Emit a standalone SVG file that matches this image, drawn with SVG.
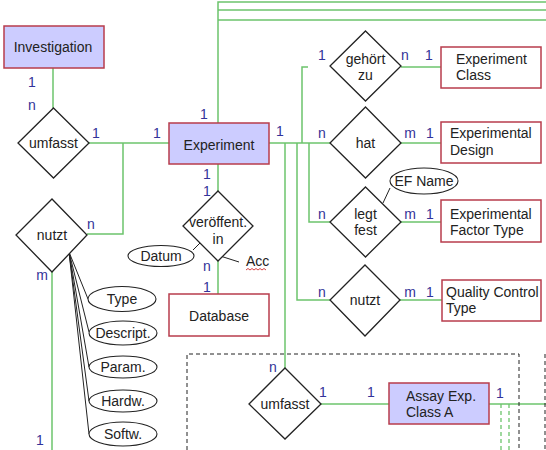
<svg xmlns="http://www.w3.org/2000/svg" width="546" height="450" viewBox="0 0 546 450">
<style>
.ent{fill:#ccccff;stroke:#b83c4c;stroke-width:1.5}
.ent2{fill:#ffffff;stroke:#b83c4c;stroke-width:1.5}
.rel{fill:#ffffff;stroke:#222;stroke-width:1.3}
.attr{fill:#ffffff;stroke:#222;stroke-width:1.1}
.t{font-family:"Liberation Sans",Arial,sans-serif;font-size:14px;fill:#222}
.c{text-anchor:middle}
.lb{font-family:"Liberation Sans",Arial,sans-serif;font-size:14px;fill:#333399;text-anchor:middle}
.g{fill:none;stroke:#6cc46c;stroke-width:1.5}
.gd{fill:none;stroke:#6cc46c;stroke-width:1.3;stroke-dasharray:4 3}
.k{fill:none;stroke:#222;stroke-width:1}
.dash{fill:none;stroke:#222;stroke-width:1;stroke-dasharray:4 3}
</style>
<rect width="546" height="450" fill="#ffffff"/>
<g id="connectors">
<path class="g" d="M218 123V2H546M218 10H546M218 20H546"/>
<path class="g" d="M53 68V108"/>
<path class="g" d="M89 143H169"/>
<path class="g" d="M123 143V234H87"/>
<path class="g" d="M52 272V450"/>
<path class="g" d="M218 164V191M218 261V294"/>
<path class="g" d="M269 143H330"/>
<path class="g" d="M302 143V67H308"/>
<path class="g" d="M401 67H441"/>
<path class="g" d="M401 143H441"/>
<path class="g" d="M309 143V222H330M401 222H441"/>
<path class="g" d="M297 143V300H330M400 300H442"/>
<path class="g" d="M285 143V368"/>
<path class="g" d="M321 404H389"/>
<path class="g" d="M489 404H546"/>
<path class="gd" d="M501 404V450M509 404V450"/>
<path class="k" d="M69 252L88 299M69 252L89 332M69 252L89 367M69 252L89 401M69 252L89 434"/>
<path class="k" d="M193 250L200 243"/>
<path class="k" d="M214 254L239 262"/>
<path class="k" d="M390 188L383 203"/>
<path class="dash" d="M187 450V354H519V450M545 354V450"/>
</g>
<g id="investigation"><rect class="ent" x="4" y="26" width="100" height="42"/><text class="t c" x="53" y="52">Investigation</text></g>
<g id="umfasst1"><polygon class="rel" points="53.5,108 89,143 53.5,178 18,143"/><text class="t c" x="53.5" y="148">umfasst</text></g>
<g id="experiment"><rect class="ent" x="169" y="123" width="100" height="41"/><text class="t c" x="219" y="150">Experiment</text></g>
<g id="nutzt1"><polygon class="rel" points="52,199 87,235 52,272 16,235"/><text class="t c" x="52" y="240">nutzt</text></g>
<g id="type"><ellipse class="attr" cx="122" cy="299" rx="34" ry="12.5"/><text class="t c" x="122" y="304">Type</text></g>
<g id="descript"><ellipse class="attr" cx="123" cy="333" rx="34" ry="12"/><text class="t c" x="123" y="338">Descript.</text></g>
<g id="param"><ellipse class="attr" cx="123" cy="367" rx="34" ry="11"/><text class="t c" x="123" y="372">Param.</text></g>
<g id="hardw"><ellipse class="attr" cx="123" cy="401" rx="34" ry="11"/><text class="t c" x="123" y="406">Hardw.</text></g>
<g id="softw"><ellipse class="attr" cx="123" cy="434" rx="34" ry="12"/><text class="t c" x="123" y="439">Softw.</text></g>
<g id="veroeffent"><polygon class="rel" points="218,191 253,226 218,261 183,226"/><text class="t c" x="218" y="227">veröffent.</text><text class="t c" x="218" y="244">in</text></g>
<g id="datum"><ellipse class="attr" cx="161" cy="256" rx="33" ry="10.5"/><text class="t c" x="161" y="261">Datum</text></g>
<g id="acc"><text class="t" x="246" y="266">Acc</text><path d="M246 270l2 -1.5l2 1.5l2 -1.5l2 1.5l2 -1.5l2 1.5l2 -1.5l2 1.5l2 -1.5l2 1.5" fill="none" stroke="#d03030" stroke-width="0.9"/></g>
<g id="database"><rect class="ent2" x="169" y="294" width="100" height="42"/><text class="t c" x="219" y="321">Database</text></g>
<g id="gehoert"><polygon class="rel" points="365.5,31 401,66 365.5,101 330,66"/><text class="t c" x="365.5" y="64">gehört</text><text class="t c" x="365.5" y="80">zu</text></g>
<g id="expclass"><rect class="ent2" x="441" y="47" width="100" height="41"/><text class="t" x="456" y="64">Experiment</text><text class="t" x="456" y="80">Class</text></g>
<g id="hat"><polygon class="rel" points="365.5,107 401,143 365.5,178 330,143"/><text class="t c" x="365.5" y="148">hat</text></g>
<g id="expdesign"><rect class="ent2" x="441" y="122" width="100" height="41"/><text class="t" x="450" y="138">Experimental</text><text class="t" x="450" y="155">Design</text></g>
<g id="legtfest"><polygon class="rel" points="365.5,187 401,222 365.5,257 330,222"/><text class="t c" x="365.5" y="219">legt</text><text class="t c" x="365.5" y="235">fest</text></g>
<g id="efname"><ellipse class="attr" cx="424" cy="181" rx="34" ry="13"/><text class="t c" x="424" y="186">EF Name</text></g>
<g id="factortype"><rect class="ent2" x="441" y="200" width="100" height="42"/><text class="t" x="450" y="219">Experimental</text><text class="t" x="450" y="235">Factor Type</text></g>
<g id="nutzt2"><polygon class="rel" points="365,265 400,300 365,336 330,300"/><text class="t c" x="365" y="305">nutzt</text></g>
<g id="qctype"><rect class="ent2" x="442" y="280" width="99" height="41"/><text class="t" x="446" y="297">Quality Control</text><text class="t" x="446" y="313">Type</text></g>
<g id="umfasst2"><polygon class="rel" points="285,368 321,404 285,439 249,404"/><text class="t c" x="285" y="409">umfasst</text></g>
<g id="assay"><rect class="ent" x="389" y="383" width="100" height="41"/><text class="t" x="406" y="401">Assay Exp.</text><text class="t" x="406" y="417">Class A</text></g>
<g id="labels">
<text class="lb" x="32" y="87">1</text><text class="lb" x="32" y="110">n</text>
<text class="lb" x="96" y="138">1</text><text class="lb" x="157" y="138">1</text>
<text class="lb" x="204" y="119">1</text>
<text class="lb" x="207" y="179">1</text><text class="lb" x="207" y="196">1</text>
<text class="lb" x="280" y="136">1</text>
<text class="lb" x="322" y="60">1</text><text class="lb" x="405" y="60">n</text><text class="lb" x="429" y="60">1</text>
<text class="lb" x="322" y="138">n</text><text class="lb" x="410" y="138">m</text><text class="lb" x="430" y="138">1</text>
<text class="lb" x="322" y="219">n</text><text class="lb" x="410" y="219">m</text><text class="lb" x="430" y="219">1</text>
<text class="lb" x="322" y="297">n</text><text class="lb" x="410" y="297">m</text><text class="lb" x="430" y="297">1</text>
<text class="lb" x="91" y="229">n</text><text class="lb" x="42" y="280">m</text>
<text class="lb" x="40" y="445">1</text>
<text class="lb" x="207" y="271">n</text><text class="lb" x="207" y="292">1</text>
<text class="lb" x="273" y="372">n</text><text class="lb" x="323" y="397">1</text><text class="lb" x="371" y="397">1</text>
<text class="lb" x="500" y="398">1</text>
</g>
</svg>
